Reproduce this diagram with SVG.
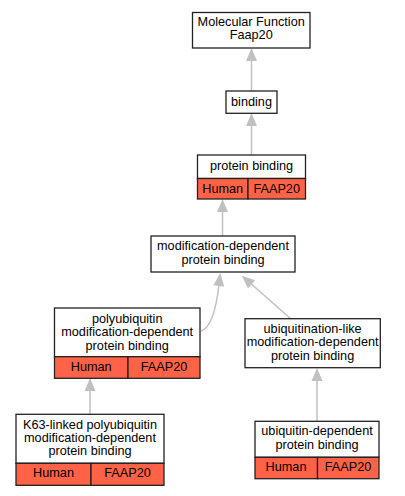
<svg xmlns="http://www.w3.org/2000/svg" width="405" height="496" viewBox="0 0 405 496">
<style>
.box{fill:#fff;stroke:#222;stroke-width:1.3}
.red{fill:#ff6347;stroke:#222;stroke-width:1.3}
text{font-family:"Liberation Sans",Arial,sans-serif;font-size:12.7px;fill:#000;text-anchor:middle}
.e{fill:none;stroke:#c0c0c0;stroke-width:1.5}
</style>
<defs>
<marker id="ah" markerUnits="userSpaceOnUse" markerWidth="14" markerHeight="12" refX="0" refY="5.5" orient="auto" viewBox="0 -0.5 13 12">
<path d="M0,0 L13,5.5 L0,11 z" fill="#c0c0c0"/>
</marker>
</defs>
<rect width="405" height="496" fill="#fff"/>
<g id="edges">
<path class="e" d="M251.5,91 L251.5,61" marker-end="url(#ah)"/>
<path class="e" d="M251.5,155 L251.5,126" marker-end="url(#ah)"/>
<path class="e" d="M222.5,236 L222.5,212" marker-end="url(#ah)"/>
<path class="e" d="M201,331 C211,328 216,310 218.8,286" marker-end="url(#ah)"/>
<path class="e" d="M290.7,318.7 L251.6,284.3" marker-end="url(#ah)"/>
<path class="e" d="M90,414 L90,391" marker-end="url(#ah)"/>
<path class="e" d="M317,421 L317,381" marker-end="url(#ah)"/>
</g>
<g id="n_mf">
<rect class="box" x="192.5" y="12.5" width="117.5" height="35.5"/>
<text x="251.2" y="25.8">Molecular Function</text>
<text x="251.2" y="39">Faap20</text>
</g>
<g id="n_binding">
<rect class="box" x="226" y="91" width="51" height="22.3"/>
<text x="251.5" y="106.3">binding</text>
</g>
<g id="n_protein">
<rect class="box" x="197.5" y="155" width="108" height="23.5"/>
<rect class="red" x="197.5" y="178.5" width="50.5" height="20.5"/>
<rect class="red" x="248" y="178.5" width="57.5" height="20.5"/>
<text x="251.5" y="170.3">protein binding</text>
<text x="222.7" y="193">Human</text>
<text x="276.7" y="193">FAAP20</text>
</g>
<g id="n_moddep">
<rect class="box" x="151" y="236" width="144" height="36"/>
<text x="223" y="250.2">modification-dependent</text>
<text x="223" y="263.8">protein binding</text>
</g>
<g id="n_polyub">
<rect class="box" x="54.5" y="308" width="145.5" height="48.7"/>
<rect class="red" x="54.5" y="356.7" width="73.5" height="21.6"/>
<rect class="red" x="128" y="356.7" width="72" height="21.6"/>
<text x="127.2" y="322.6">polyubiquitin</text>
<text x="127.2" y="335.8">modification-dependent</text>
<text x="127.2" y="349.5">protein binding</text>
<text x="91.2" y="371.2">Human</text>
<text x="164" y="371.2">FAAP20</text>
</g>
<g id="n_ubiqlike">
<rect class="box" x="245" y="318.7" width="135.3" height="49"/>
<text x="312.6" y="333.3">ubiquitination-like</text>
<text x="312.6" y="346.4">modification-dependent</text>
<text x="312.6" y="359.8">protein binding</text>
</g>
<g id="n_k63">
<rect class="box" x="16" y="414.3" width="148" height="49"/>
<rect class="red" x="16" y="463.3" width="75" height="22"/>
<rect class="red" x="91" y="463.3" width="73" height="22"/>
<text x="90" y="429.3">K63-linked polyubiquitin</text>
<text x="90" y="442.3">modification-dependent</text>
<text x="90" y="455.4">protein binding</text>
<text x="53.5" y="477.2">Human</text>
<text x="127.5" y="477.2">FAAP20</text>
</g>
<g id="n_ubiqdep">
<rect class="box" x="255" y="421.3" width="124" height="36"/>
<rect class="red" x="255" y="457.3" width="62.5" height="21.4"/>
<rect class="red" x="317.5" y="457.3" width="61.5" height="21.4"/>
<text x="317" y="435.3">ubiquitin-dependent</text>
<text x="317" y="448.9">protein binding</text>
<text x="286" y="471.2">Human</text>
<text x="348" y="471.2">FAAP20</text>
</g>
</svg>
